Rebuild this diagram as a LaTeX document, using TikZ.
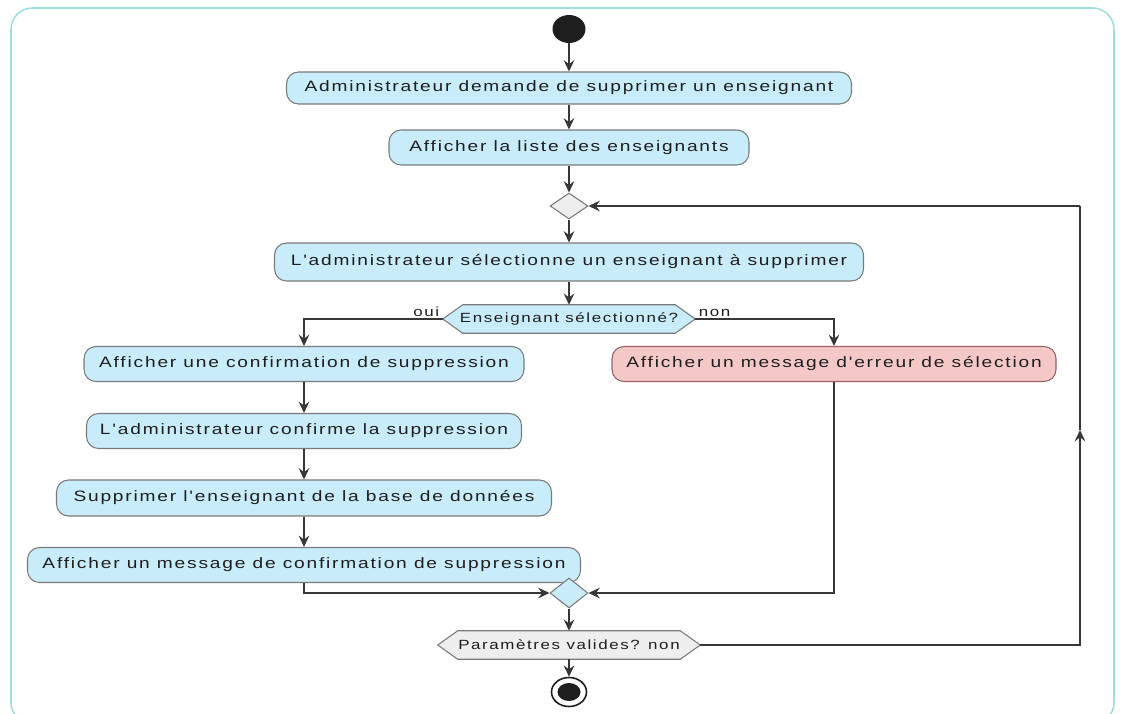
\documentclass[tikz,border=0pt]{standalone}
\usepackage{fontspec}
\usetikzlibrary{shapes.geometric,arrows.meta,calc,backgrounds}
\newfontfamily\diagfont[FakeStretch=1.27,LetterSpace=12]{Liberation Sans}

\definecolor{actblue}{RGB}{200,236,250}
\definecolor{errpink}{RGB}{245,200,200}
\definecolor{mergegray}{RGB}{238,238,238}
\definecolor{bordergray}{RGB}{122,122,122}
\definecolor{linedark}{RGB}{55,55,55}
\definecolor{textdark}{RGB}{30,30,30}
\definecolor{framecyan}{RGB}{160,222,222}

\newdimen\px \px=0.75pt

\tikzset{
  act/.style={draw=bordergray, fill=actblue, rounded corners=12\px,
    line width=0.8pt, inner sep=0pt, text=textdark,
    font=\diagfont\fontsize{11.3}{13}\selectfont},
  err/.style={act, fill=errpink, draw=bordergray!80!red},
  hexbox/.style={inner sep=0pt, text=textdark,
    font=\diagfont\fontsize{10}{12}\selectfont},
  hexline/.style={draw=bordergray, line width=0.8pt},
  merge/.style={diamond, draw=bordergray, line width=0.8pt, inner sep=0pt,
    minimum width=38\px, minimum height=26\px},
  lbl/.style={inner sep=1pt, text=textdark,
    font=\diagfont\fontsize{10}{12}\selectfont},
  flow/.style={draw=linedark, line width=1pt,
    -{Stealth[length=8.5pt,width=8pt,inset=3pt]}},
  frame/.style={draw=framecyan, line width=1.2pt, rounded corners=16pt}
}

% hexagonal decision outline drawn behind its text node
\newcommand{\hexoutline}[2]{%
  \begin{pgfonlayer}{background}
    \path[hexline, fill=#2] (#1.west) -- ($(#1.north west)+(20,0)$)
      -- ($(#1.north east)+(-20,0)$) -- (#1.east)
      -- ($(#1.south east)+(-20,0)$) -- ($(#1.south west)+(20,0)$) -- cycle;
  \end{pgfonlayer}}

\begin{document}
\begin{tikzpicture}[x=0.75pt,y=-0.75pt]
\useasboundingbox (0,0) rectangle (1121,714);
\begin{scope}
  \clip (0,0) rectangle (1121,714);
  \draw[frame] (11,8) rectangle (1114,724);
\end{scope}

% start
\node[ellipse, fill=textdark, minimum width=33\px, minimum height=28\px, inner sep=0pt] (start) at (569,29) {};

% main column
\node[act, minimum width=565\px, minimum height=32\px] (b1) at (569,88) {Administrateur demande de supprimer un enseignant};
\node[act, minimum width=360\px, minimum height=35\px] (b2) at (569,147.5) {Afficher la liste des enseignants};
\node[merge, fill=mergegray] (m1) at (569,206) {};
\node[act, minimum width=589\px, minimum height=38\px] (b3) at (569,262) {L'administrateur sélectionne un enseignant à supprimer};
\node[hexbox, minimum width=252\px, minimum height=28\px] (d1) at (569,319) {Enseignant sélectionné?};
\hexoutline{d1}{actblue}

% oui branch
\node[act, minimum width=440\px, minimum height=35\px] (b4) at (304,364) {Afficher une confirmation de suppression};
\node[act, minimum width=435\px, minimum height=35\px] (b5) at (304,431) {L'administrateur confirme la suppression};
\node[act, minimum width=495\px, minimum height=36\px] (b6) at (304,498) {Supprimer l'enseignant de la base de données};
\node[act, minimum width=553\px, minimum height=35\px] (b7) at (304,565) {Afficher un message de confirmation de suppression};

% non branch
\node[err, minimum width=444\px, minimum height=35\px] (b8) at (834,364) {Afficher un message d'erreur de sélection};

% merge and final test
\node[merge, fill=actblue, minimum height=30\px] (m2) at (569,593) {};
\node[hexbox, minimum width=262\px, minimum height=28\px] (d2) at (569,645) {Paramètres valides? non};
\hexoutline{d2}{mergegray}

% end
\node[ellipse, draw=textdark, line width=1.2pt, fill=white, minimum width=35\px, minimum height=29\px, inner sep=0pt] (stop) at (569,692) {};
\node[ellipse, fill=textdark, minimum width=23\px, minimum height=18\px, inner sep=0pt] (stopdot) at (569,692) {};

% branch labels
\node[lbl, anchor=south east] (oui) at ($(d1.west)+(-2,-1)$) {oui};
\node[lbl, anchor=south west] (non) at ($(d1.east)+(2,-1)$) {non};

% connectors
\draw[flow] (start) -- (b1);
\draw[flow] (b1) -- (b2);
\draw[flow] (b2) -- (m1);
\draw[flow] (m1) -- (b3);
\draw[flow] (b3) -- (d1);
\draw[flow] (d1.west) -| (b4.north);
\draw[flow] (d1.east) -| (b8.north);
\draw[flow] (b4) -- (b5);
\draw[flow] (b5) -- (b6);
\draw[flow] (b6) -- (b7);
\draw[flow] (b7.south) |- (m2.west);
\draw[flow] (b8.south) |- (m2.east);
\draw[flow] (m2) -- (d2);
\draw[flow] (d2) -- (stop);
\coordinate (loopup) at (1080,430);
\draw[flow] (d2.east) -| (loopup);
\draw[draw=linedark, line width=1pt] (loopup) -- (1080,206);
\draw[flow] (1080,206) -- (m1.east);
\end{tikzpicture}
\end{document}
